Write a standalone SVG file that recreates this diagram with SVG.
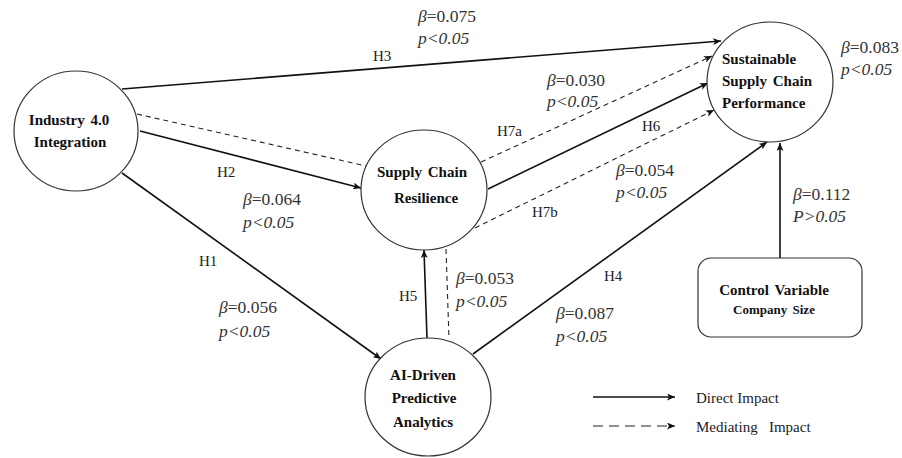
<svg xmlns="http://www.w3.org/2000/svg" width="902" height="458" viewBox="0 0 902 458">
<defs>
<marker id="arr" markerUnits="userSpaceOnUse" markerWidth="9" markerHeight="7" refX="8" refY="3.5" orient="auto">
<path d="M0,0 L8,3.5 L0,7 L2,3.5 z" fill="#111"/>
</marker>
<style>
text{font-family:'Liberation Serif','Times New Roman','DejaVu Serif',serif}
.node{fill:#fff;stroke:#333;stroke-width:1.2}
.nt{font-weight:bold;font-size:15px;fill:#111;word-spacing:2px}
.solid{stroke:#111;stroke-width:1.6;fill:none}
.dash{stroke:#222;stroke-width:1.1;fill:none;stroke-dasharray:5 4}
.h{font-size:15px;fill:#222}
.b{font-size:17.5px;fill:#333}
.i{font-style:italic}
.lg{font-size:15px;fill:#222}
</style>
</defs>
<rect width="902" height="458" fill="#fff"/>

<g id="connectors">
<line class="solid" x1="122" y1="89" x2="721" y2="41" marker-end="url(#arr)"/>
<line class="dash" x1="137" y1="114" x2="366" y2="166"/>
<line class="solid" x1="140" y1="131" x2="361" y2="188" marker-end="url(#arr)"/>
<line class="solid" x1="122" y1="173" x2="381" y2="359" marker-end="url(#arr)"/>
<line class="solid" x1="427" y1="338" x2="424" y2="250" marker-end="url(#arr)"/>
<line class="dash" x1="446" y1="249" x2="449" y2="339"/>
<line class="solid" x1="473" y1="354" x2="767" y2="142" marker-end="url(#arr)"/>
<line class="solid" x1="780" y1="258" x2="780" y2="143" marker-end="url(#arr)"/>
<line class="solid" x1="488" y1="189" x2="708" y2="83" marker-end="url(#arr)"/>
<line class="dash" x1="481" y1="162" x2="712" y2="56" marker-end="url(#arr)"/>
<line class="dash" x1="475" y1="228" x2="714" y2="110" marker-end="url(#arr)"/>
</g>

<g id="labels">
<text class="h" x="373" y="61">H3</text>
<text class="h" x="217" y="177">H2</text>
<text class="h" x="199" y="266">H1</text>
<text class="h" x="399" y="301">H5</text>
<text class="h" x="604" y="281">H4</text>
<text class="h" x="642" y="131">H6</text>
<text class="h" x="497" y="136">H7a</text>
<text class="h" x="532" y="217">H7b</text>

<text class="b" x="418" y="22"><tspan class="i">β</tspan>=0.075</text>
<text class="b i" x="418" y="44">p&lt;0.05</text>
<text class="b" x="243" y="205"><tspan class="i">β</tspan>=0.064</text>
<text class="b i" x="243" y="228">p&lt;0.05</text>
<text class="b" x="219" y="313"><tspan class="i">β</tspan>=0.056</text>
<text class="b i" x="219" y="337">p&lt;0.05</text>
<text class="b" x="456" y="284"><tspan class="i">β</tspan>=0.053</text>
<text class="b i" x="456" y="307">p&lt;0.05</text>
<text class="b" x="556" y="319"><tspan class="i">β</tspan>=0.087</text>
<text class="b i" x="556" y="342">p&lt;0.05</text>
<text class="b" x="547" y="86"><tspan class="i">β</tspan>=0.030</text>
<text class="b i" x="547" y="107">p&lt;0.05</text>
<text class="b" x="616" y="176"><tspan class="i">β</tspan>=0.054</text>
<text class="b i" x="616" y="198">p&lt;0.05</text>
<text class="b" x="841" y="53"><tspan class="i">β</tspan>=0.083</text>
<text class="b i" x="841" y="75">p&lt;0.05</text>
<text class="b" x="793" y="200"><tspan class="i">β</tspan>=0.112</text>
<text class="b i" x="793" y="222">P&gt;0.05</text>
</g>

<g id="industry40">
<ellipse class="node" cx="76" cy="131" rx="62" ry="60"/>
<text class="nt" x="69" y="125" text-anchor="middle">Industry 4.0</text>
<text class="nt" x="70" y="147" text-anchor="middle">Integration</text>
</g>

<g id="resilience">
<ellipse class="node" cx="424" cy="190" rx="63" ry="60"/>
<text class="nt" x="422" y="177" text-anchor="middle">Supply Chain</text>
<text class="nt" x="426" y="203" text-anchor="middle">Resilience</text>
</g>

<g id="performance">
<ellipse class="node" cx="770" cy="82" rx="63" ry="60"/>
<text class="nt" x="722" y="64">Sustainable</text>
<text class="nt" x="722" y="86">Supply Chain</text>
<text class="nt" x="722" y="108">Performance</text>
</g>

<g id="ai">
<ellipse class="node" cx="428" cy="397" rx="63" ry="59"/>
<text class="nt" x="423" y="380" text-anchor="middle">AI-Driven</text>
<text class="nt" x="424" y="403" text-anchor="middle">Predictive</text>
<text class="nt" x="423" y="427" text-anchor="middle">Analytics</text>
</g>

<g id="control">
<rect class="node" x="698" y="258" width="164" height="79" rx="13"/>
<text class="nt" x="774" y="295" text-anchor="middle">Control Variable</text>
<text class="nt" x="774" y="314" text-anchor="middle" style="font-size:13px">Company Size</text>
</g>

<g id="legend">
<line class="solid" x1="593" y1="397" x2="675" y2="397" stroke-width="1.2" marker-end="url(#arr)"/>
<line class="dash" x1="593" y1="426" x2="675" y2="426" style="stroke-dasharray:10 6;stroke-width:1.2" marker-end="url(#arr)"/>
<text class="lg" x="696" y="403">Direct Impact</text>
<text class="lg" x="696" y="432" xml:space="preserve">Mediating   Impact</text>
</g>
</svg>
